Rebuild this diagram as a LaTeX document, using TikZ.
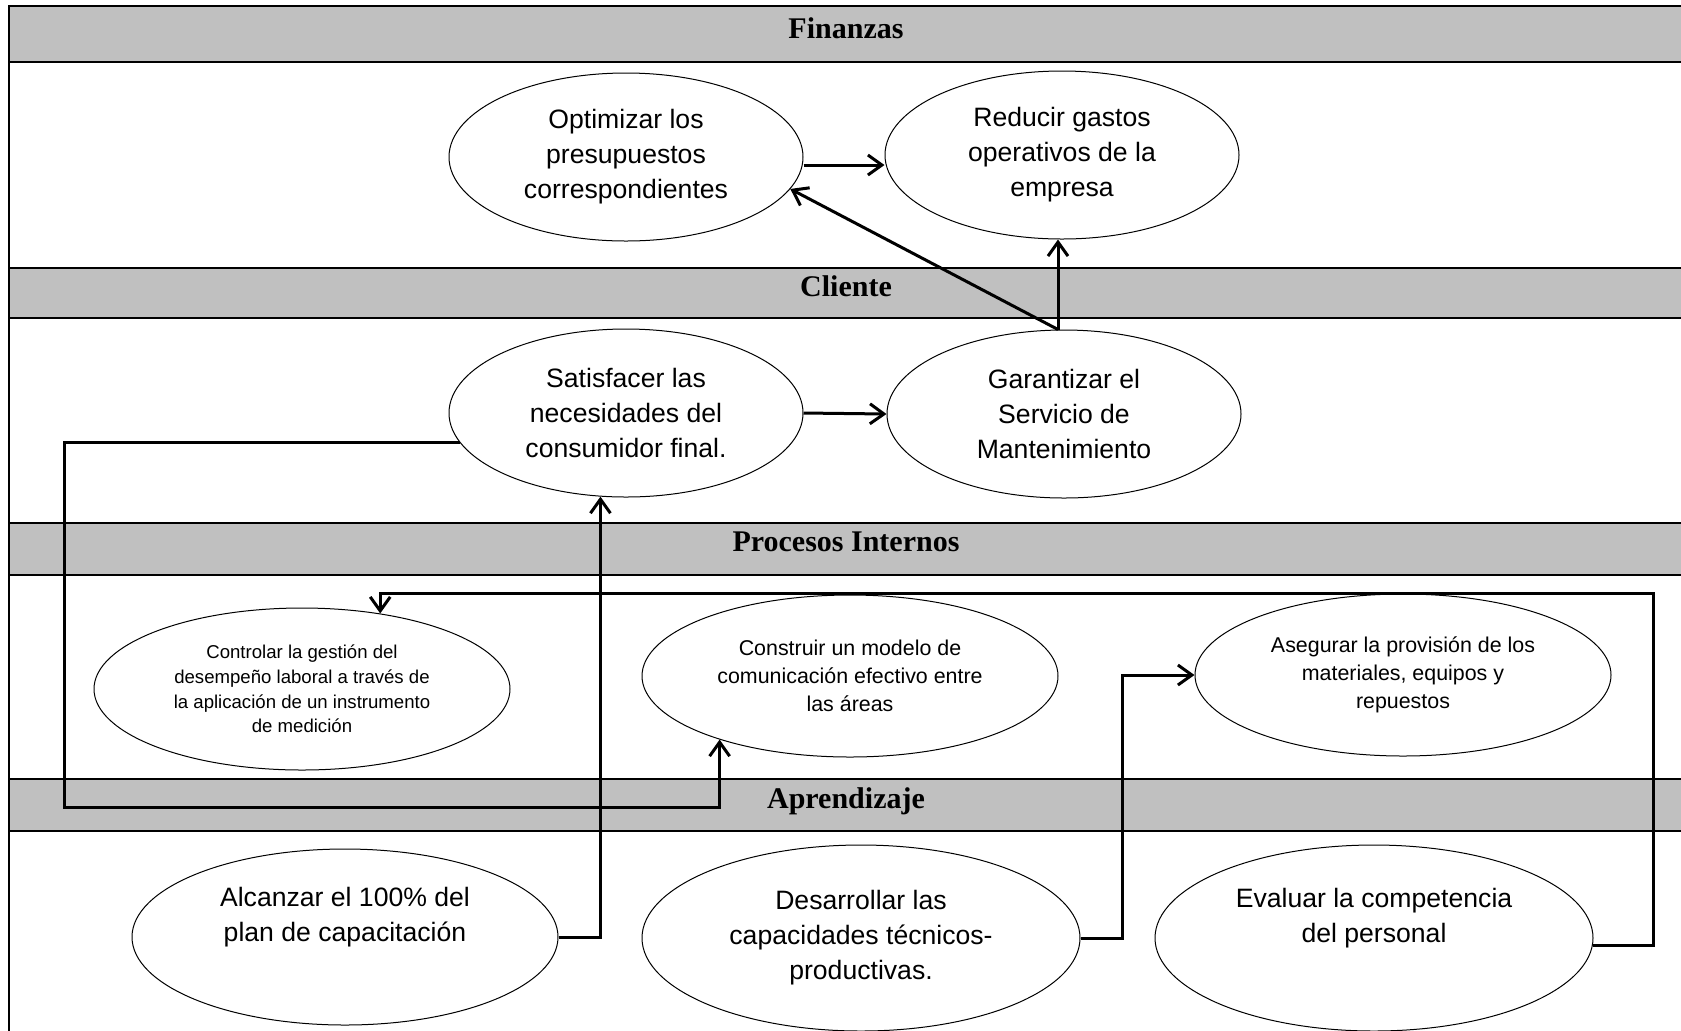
\documentclass[tikz,border=0pt]{standalone}
\usepackage{fontspec}
\setmainfont{Liberation Sans}
\newfontfamily\titlefont{Liberation Serif}
\usetikzlibrary{shapes.geometric,arrows.meta}
\definecolor{bandgray}{RGB}{192,192,192}
\begin{document}
\begin{tikzpicture}[x=0.5pt,y=-0.5pt,
  band/.style={fill=bandgray,draw=black,line width=1pt},
  bandtitle/.style={font=\titlefont\bfseries\fontsize{15pt}{18pt}\selectfont,inner sep=0pt,anchor=base},
  goal/.style={ellipse,draw=black,line width=0.5pt,inner sep=0pt,align=center,
    font=\fontsize{13.3pt}{17.5pt}\selectfont},
  goalsmall/.style={goal,font=\fontsize{9.3pt}{12.3pt}\selectfont},
  goalmid/.style={goal,font=\fontsize{10.7pt}{14pt}\selectfont},
  link/.style={line width=1.5pt,-{Straight Barb[length=7pt,width=10pt]}},
]
\useasboundingbox (0,0) rectangle (1681,1030);
\clip (0,0) rectangle (1681,1030);
% bands
\draw[band] (9,6) rectangle (1700,62);
\draw[band] (9,268) rectangle (1700,318);
\draw[band] (9,523) rectangle (1700,575);
\draw[band] (9,779) rectangle (1700,831);
\draw[line width=1pt] (9,6) -- (9,1040);
\node[bandtitle] (tfin) at (846,38) {Finanzas};
\node[bandtitle] (tcli) at (846,296) {Cliente};
\node[bandtitle] (tpro) at (846,551) {Procesos Internos};
\node[bandtitle] (tapr) at (846,808) {Aprendizaje};
% goals
\node[goal,minimum width=177pt,minimum height=84pt] (opt) at (626,157)
  {Optimizar los\\presupuestos\\correspondientes};
\node[goal,minimum width=177pt,minimum height=84pt] (red) at (1062,155)
  {Reducir gastos\\operativos de la\\empresa};
\node[goal,minimum width=177pt,minimum height=84pt] (sat) at (626,413)
  {Satisfacer las\\necesidades del\\consumidor final.};
\node[goal,minimum width=177pt,minimum height=84pt] (gar) at (1064,414)
  {Garantizar el\\Servicio de\\Mantenimiento};
\node[goalsmall,minimum width=208pt,minimum height=81pt] (ctl) at (302,689)
  {Controlar la gestión del\\desempeño laboral a través de\\la aplicación de un instrumento\\de medición};
\node[goalmid,minimum width=208pt,minimum height=81pt] (con) at (850,676)
  {Construir un modelo de\\comunicación efectivo entre\\las áreas};
\node[goalmid,minimum width=208pt,minimum height=81pt] (ase) at (1403,675)
  {Asegurar la provisión de los\\materiales, equipos y\\repuestos};
\node[goal,minimum width=213pt,minimum height=88pt] (alc) at (345,937)
  {Alcanzar el 100\% del\\plan de capacitación\\\strut};
\node[goal,minimum width=219pt,minimum height=93pt] (des) at (861,938)
  {Desarrollar las\\capacidades técnicos-\\productivas.};
\node[goal,minimum width=219pt,minimum height=93pt] (eva) at (1374,938)
  {Evaluar la competencia\\del personal\\\strut};
% bend points
\coordinate (gtop) at ([xshift=-3pt]gar.north);
\coordinate (y165) at (0,165);
\coordinate (bendA) at (64,807);
\coordinate (bendB) at (1122,675);
\coordinate (bendC) at (1653,593);
% connectors
\draw[link] (opt.east |- y165) -- (red.west |- y165);
\draw[link] (gtop) -- (opt.-11);
\draw[link] (gtop) -- (gtop |- red.south);
\draw[link] (sat.east) -- (gar.west);
\draw[link] (sat.190) -| (bendA) -| (con.206);
\draw[link] (alc.east) -| (sat.253);
\draw[link] (des.east) -| (bendB) -- (ase.west);
\draw[link] (eva.-2) -| (bendC) -| (ctl.44);
\end{tikzpicture}
\end{document}
